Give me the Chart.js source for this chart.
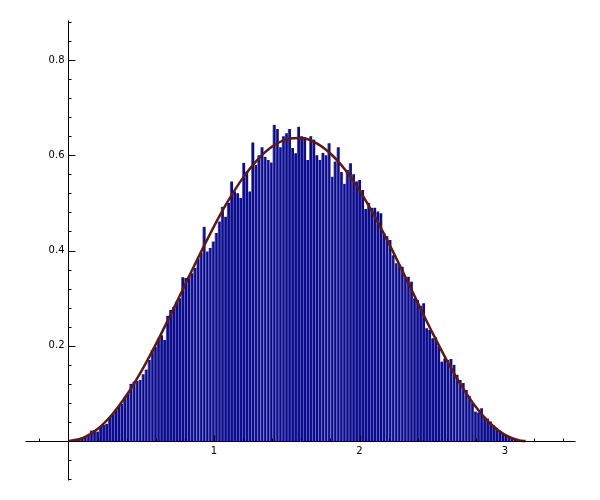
<!DOCTYPE html>
<html>
<head>
<meta charset="utf-8">
<style>
html,body{margin:0;padding:0;background:#fff}
canvas{display:block}
</style>
<script src="https://cdn.jsdelivr.net/npm/chart.js@4/dist/chart.umd.min.js"></script>
</head>
<body>
<canvas id="c" width="600" height="500"></canvas>
<script>
/* -------------------- Data -------------------- */
const binStart = 0
const binEnd = Math.PI
// normalised histogram heights, one per bin
const binHeights = [
  0.0003,0.001,0.002,0.004,0.006,0.008,0.012,0.022,0.023,0.020,
  0.030,0.034,0.036,0.050,0.056,0.064,0.073,0.078,0.092,0.100,
  0.120,0.125,0.126,0.128,0.140,0.150,0.170,0.191,0.198,0.216,
  0.222,0.212,0.263,0.275,0.282,0.293,0.300,0.344,0.342,0.345,
  0.352,0.363,0.382,0.395,0.450,0.398,0.405,0.419,0.437,0.461,
  0.492,0.471,0.500,0.545,0.524,0.520,0.510,0.584,0.566,0.524,
  0.627,0.580,0.600,0.617,0.597,0.590,0.585,0.664,0.655,0.617,
  0.640,0.646,0.655,0.615,0.604,0.660,0.640,0.638,0.590,0.640,
  0.633,0.600,0.590,0.605,0.600,0.625,0.555,0.587,0.617,0.565,
  0.540,0.569,0.583,0.560,0.545,0.548,0.527,0.487,0.500,0.490,
  0.490,0.482,0.478,0.436,0.430,0.422,0.390,0.373,0.370,0.366,
  0.342,0.345,0.335,0.300,0.296,0.284,0.289,0.237,0.233,0.216,
  0.218,0.200,0.167,0.174,0.170,0.172,0.160,0.139,0.128,0.122,
  0.107,0.095,0.080,0.062,0.060,0.069,0.051,0.047,0.041,0.033,
  0.028,0.022,0.017,0.013,0.010,0.007,0.004,0.003,0.001,0.0005
]
// density curve drawn over the bars
const curveX = [0,0.1,0.2,0.3,0.4,0.5,0.6,0.7,0.8,0.9,1.0,1.1,1.2,1.3,1.4,1.5,
  1.6,1.7,1.8,1.9,2.0,2.1,2.2,2.3,2.4,2.5,2.6,2.7,2.8,2.9,3.0,3.1,3.1416]
const curveY = [0,0.0063,0.0251,0.0556,0.0965,0.1463,0.2029,0.2642,0.3276,0.3906,
  0.4508,0.5056,0.5530,0.5910,0.6182,0.6334,0.6360,0.6261,0.6037,0.5701,0.5264,
  0.4743,0.4161,0.3540,0.2905,0.2280,0.1692,0.1163,0.0714,0.0364,0.0127,0.0011,0]

const xTicks = [1,2,3]
const xTickLabels = ['1','2','3']
const yTicks = [0.2,0.4,0.6,0.8]
const yTickLabels = ['0.2','0.4','0.6','0.8']
const xAxisRange = [-0.3,3.48]
const yAxisRange = [-0.082,0.884]

/* -------------------- Build -------------------- */
const binW = (binEnd-binStart)/binHeights.length
const barPoints = binHeights.map((h,i)=>({x: binStart+(i+0.5)*binW, y: h}))
const curvePoints = curveX.map((x,i)=>({x, y: curveY[i]}))

function steps(from, to, step, skip){
  const out = []
  for(let k=Math.round(from/step); k*step<=to+1e-9; k++){
    const v = +(k*step).toFixed(4)
    if(!skip.some(s=>Math.abs(s-v)<1e-6)) out.push(v)
  }
  return out
}
const xMinor = steps(-0.2, 3.4, 0.2, [0,...xTicks])
const yMinor = steps(-0.08, 0.88, 0.04, [0,...yTicks])

/* -------------------- Sage style axes -------------------- */
const sageAxes = {
  id:'sageAxes',
  afterDatasetsDraw(chart){
    const {ctx, scales:{x, y}} = chart
    const px = v => Math.round(x.getPixelForValue(v)) + 0.5
    const py = v => Math.round(y.getPixelForValue(v)) + 0.5
    const x0 = px(0), y0 = py(0)
    ctx.save()
    ctx.strokeStyle = '#000'
    ctx.lineWidth = 1
    ctx.beginPath()
    ctx.moveTo(px(xAxisRange[0]), y0); ctx.lineTo(px(xAxisRange[1]), y0)
    ctx.moveTo(x0, py(yAxisRange[0])); ctx.lineTo(x0, py(yAxisRange[1]))
    xTicks.forEach(v=>{ ctx.moveTo(px(v), y0); ctx.lineTo(px(v), y0-6) })
    xMinor.forEach(v=>{ ctx.moveTo(px(v), y0); ctx.lineTo(px(v), y0-3) })
    yTicks.forEach(v=>{ ctx.moveTo(x0, py(v)); ctx.lineTo(x0+7, py(v)) })
    yMinor.forEach(v=>{ ctx.moveTo(x0, py(v)); ctx.lineTo(x0+3, py(v)) })
    ctx.stroke()

    ctx.fillStyle = '#000'
    ctx.font = '10px "DejaVu Sans"'
    ctx.textBaseline = 'middle'
    ctx.textAlign = 'center'
    xTicks.forEach((v,i)=> ctx.fillText(xTickLabels[i], x.getPixelForValue(v), y0+10))
    ctx.textAlign = 'right'
    yTicks.forEach((v,i)=> ctx.fillText(yTickLabels[i], x0-4, y.getPixelForValue(v)))
    ctx.restore()
  }
}

/* -------------------- Chart -------------------- */
new Chart(document.getElementById('c'), {
  type:'bar',
  data:{
    datasets:[
      {
        type:'line', data:curvePoints, order:0,
        borderColor:'#5c1a12', borderWidth:2.5, pointRadius:0,
        tension:0.4, cubicInterpolationMode:'monotone', fill:false
      },
      {
        type:'bar', data:barPoints, order:1,
        backgroundColor:'#0b0b8c', borderColor:'#6868c2',
        borderWidth:{left:1, right:0, top:0, bottom:0}, borderSkipped:false,
        barPercentage:1, categoryPercentage:1, grouped:false
      }
    ]
  },
  options:{
    responsive:false, animation:false, devicePixelRatio:1,
    layout:{padding:0},
    plugins:{legend:{display:false}, tooltip:{enabled:false}},
    scales:{
      x:{type:'linear', min:-0.47079, max:3.65292, offset:false, display:false},
      y:{type:'linear', min:-0.12388, max:0.92598, display:false}
    }
  },
  plugins:[sageAxes]
})
</script>
</body>
</html>
